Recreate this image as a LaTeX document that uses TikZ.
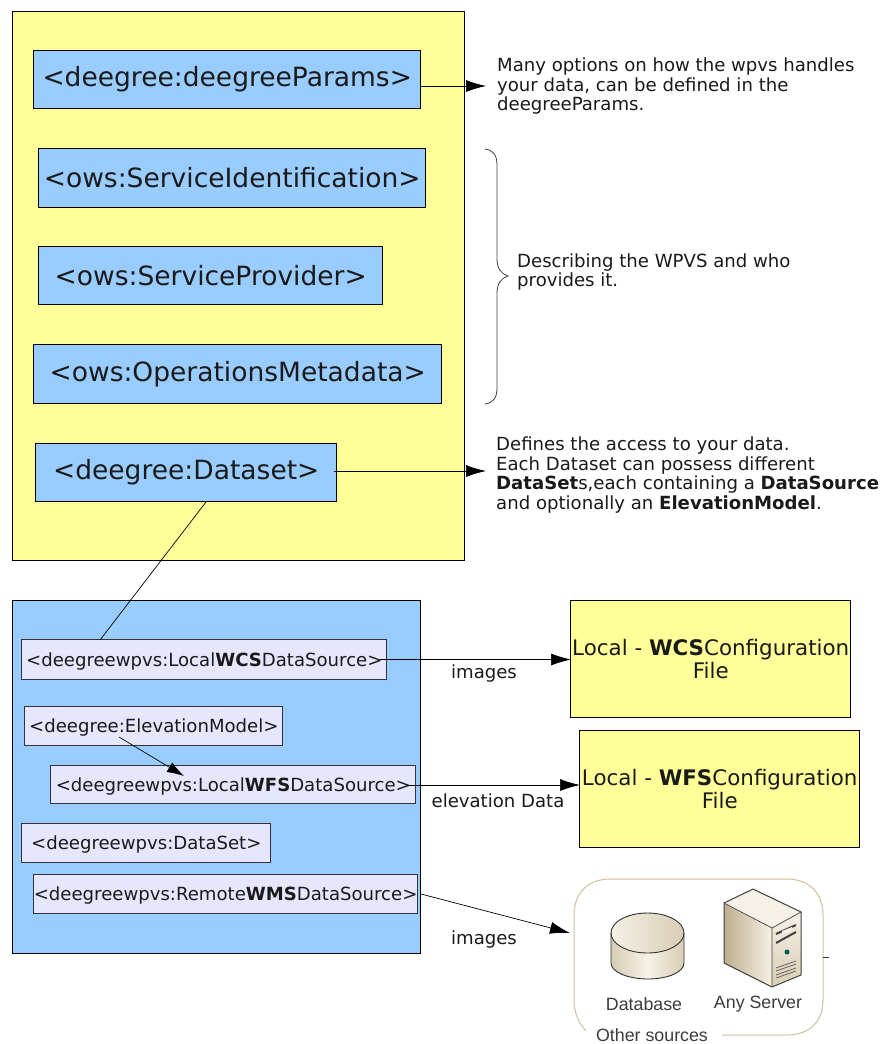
\documentclass[tikz,border=0pt]{standalone}
\usepackage{fontspec}
\setmainfont{DejaVu Sans}
\newfontfamily\lib{Liberation Sans}
\usetikzlibrary{arrows.meta,shadings}
\definecolor{yel}{HTML}{FFFF99}
\definecolor{blu}{HTML}{99CCFF}
\definecolor{lav}{HTML}{E6E6FF}
\definecolor{txt}{HTML}{1A1A1A}
\definecolor{tan1}{HTML}{CFC0A0}
\definecolor{tan2}{HTML}{F5F1E6}
\definecolor{tan3}{HTML}{D8CDB4}
\definecolor{tan4}{HTML}{BFAE8C}
\tikzset{
 x=1pt,y=-1pt,
 panel/.style={draw=black,line width=0.8pt},
 big/.style={draw=black,line width=0.7pt,fill=blu,inner sep=0pt,text=txt,font=\fontsize{26.5}{29}\selectfont},
 small/.style={draw=black!80,line width=0.8pt,fill=lav,inner sep=0pt,text=txt,text depth=0pt,font=\fontsize{18.1}{20}\selectfont},
 conf/.style={draw=black,line width=0.7pt,fill=yel,inner sep=0pt,text=txt,align=center,font=\fontsize{21.4}{23}\selectfont},
 note/.style={anchor=north west,inner sep=0pt,align=left,text=txt,font=\fontsize{18.1}{19.5}\selectfont},
 lab/.style={inner sep=0pt,text=txt,font=\fontsize{18.1}{20}\selectfont},
 lnk/.style={draw=black,line width=0.7pt},
 arr/.style={lnk,-{Latex[length=20pt,width=12pt]}},
 icon/.style={inner sep=0pt,text=txt!85,font=\lib\fontsize{17.8}{20}\selectfont},
}
\newcommand{\boxat}[7]{\node[#1,minimum width=#4pt,minimum height=#5pt,anchor=north west] (#2) at ([shift={(-0.6,-0.8)}]#6,#7) {#3};}
\begin{document}
\begin{tikzpicture}
\useasboundingbox (0,0) rectangle (881,1044);
\fill[white] (0,0) rectangle (881,1044);
\node[panel,fill=yel,minimum width=452pt,minimum height=549pt,anchor=north west,inner sep=0pt] (top) at (12,11) {};
\node[panel,fill=blu,minimum width=408pt,minimum height=353pt,anchor=north west,inner sep=0pt] (bot) at (12,600) {};

\boxat{big}{params}{<deegree:deegreeParams>}{387}{58}{34}{51}
\boxat{big}{ident}{<ows:ServiceIdentification>}{387}{59}{39}{149}
\boxat{big}{prov}{<ows:ServiceProvider>}{344}{58}{39}{247}
\boxat{big}{ops}{<ows:OperationsMetadata>}{408}{59}{34}{345}
\boxat{big}{dset}{<deegree:Dataset>}{301}{58}{36}{444}

\boxat{small}{wcs}{<deegreewpvs:Local\textbf{WCS}DataSource>}{365}{40}{22}{640}
\boxat{small}{elev}{<deegree:ElevationModel>}{258}{39}{25}{707}
\boxat{small}{wfs}{<deegreewpvs:Local\textbf{WFS}DataSource>}{365}{38}{51}{766}
\boxat{small}{ds}{<deegreewpvs:DataSet>}{249}{39}{22}{824}
\boxat{small}{wms}{<deegreewpvs:Remote\textbf{WMS}DataSource>}{382}{39}{34}{875}

\boxat{conf}{cwcs}{Local - \textbf{WCS}Configuration\\File}{280}{117}{571}{601}
\boxat{conf}{cwfs}{Local - \textbf{WFS}Configuration\\File}{280}{117}{580}{731}

\node[note] (n1) at (497,58) {Many options on how the wpvs handles\\your data, can be defined in the\\deegreeParams.};
\node[note] (n2) at (517,253.5) {Describing the WPVS and who\\provides it.};
\node[note] (n3) at (496,437) {Defines the access to your data.\\Each Dataset can possess different\\\textbf{DataSet}s,each containing a \textbf{DataSource}\\and optionally an \textbf{ElevationModel}.};

\coordinate (p1s) at (421,86);
\coordinate (p1e) at (486,86);
\draw[arr] (p1s) -- (p1e);
\coordinate (p2s) at (334,471);
\coordinate (p2e) at (486,471);
\draw[arr] (p2s) -- (p2e);
\coordinate (c1) at (206,502);
\coordinate (c2) at (100,640);
\draw[lnk] (c1) -- (c2);
\coordinate (w1) at (380,659.5);
\coordinate (w2) at (571,659.5);
\draw[arr] (w1) -- (w2);
\coordinate (f1) at (407,785);
\coordinate (f2) at (580,785);
\draw[arr] (f1) -- (f2);
\coordinate (m1) at (421,894);
\coordinate (m2) at (570,933);
\draw[arr] (m1) -- (m2);
\coordinate (e1) at (119,737);
\coordinate (e2) at (184,776);
\draw[lnk,-{Latex[length=17pt,width=11pt]}] (e1) -- (e2);

\node[lab] (l1) at (484,673) {images};
\node[lab] (l2) at (498,801) {elevation Data};
\node[lab] (l3) at (484,939) {images};

% brace
\coordinate (b1) at (485,149);
\coordinate (b2) at (497,165);
\coordinate (b3) at (497,259);
\coordinate (b4) at (508,276);
\coordinate (b5) at (497,293);
\coordinate (b6) at (497,388);
\coordinate (b7) at (485,404);
\draw[black!75,line width=0.8pt] (b1) .. controls (493,150) and (497,155) .. (b2) -- (b3) .. controls (497,268) and (501,274) .. (b4) .. controls (501,278) and (497,284) .. (b5) -- (b6) .. controls (497,398) and (493,403) .. (b7);

% other sources group
\draw[tan1,line width=1pt] (586,1031) .. controls (578,1022) and (574,1012) .. (574,1000) -- (574,915) .. controls (574,893) and (588,879) .. (610,879) -- (787,879) .. controls (809,879) and (823,893) .. (823,915) -- (823,1000) .. controls (823,1022) and (809,1035) .. (787,1035) -- (722,1035);
\node[icon] (gl) at (652,1035) {Other sources};
\coordinate (t1) at (823,957.5);
\coordinate (t2) at (829,957.5);
\draw[black!80,line width=0.7pt] (t1) -- (t2);

% database
\path[left color=tan3,right color=tan3,middle color=tan2] (611,933) -- (611,963) .. controls (611,972) and (628,979) .. (648,979) .. controls (668,979) and (684,972) .. (684,963) -- (684,933) -- cycle;
\path[left color=tan2,right color=tan3] (611,933) arc [start angle=180,end angle=-180,x radius=36.5,y radius=20];
\draw[black!80,line width=0.9pt] (611,933) -- (611,963) .. controls (611,972) and (628,979) .. (648,979) .. controls (668,979) and (684,972) .. (684,963) -- (684,933);
\draw[black!80,line width=0.9pt] (647.5,933) ellipse [x radius=36.5,y radius=20];
\node[icon] (dbl) at (644,1004) {Database};

% server
\path[left color=tan4,right color=tan2] (724,903) -- (772,928) -- (772,987) -- (724,963) -- cycle;
\fill[tan2] (724,903) -- (753,889) -- (801,912) -- (772,928) -- cycle;
\path[top color=tan2,bottom color=tan3] (772,928) -- (801,912) -- (801,975) -- (772,987) -- cycle;
\draw[black!75,line width=1pt,line join=round] (724,903) -- (753,889) -- (801,912) -- (801,975) -- (772,987) -- (724,963) -- cycle;
\draw[black!75,line width=0.7pt] (724,903) -- (772,928) -- (801,912) (772,928) -- (772,987);
\draw[black!75,line width=2pt] (776,934) -- (796,925);
\draw[black!75,line width=2pt] (776,943) -- (796,932);
\fill[tan2] (782,931) -- (792,927) -- (792,930) -- (782,935) -- cycle;
\fill[teal!70!black] (787,952) circle (2.5);
\draw[black!65,line width=0.7pt] (776,968) -- (796,961) (776,971) -- (796,964) (776,975) -- (796,968) (776,978) -- (796,971);
\node[icon] (srv) at (758,1004) {Any Server};
\end{tikzpicture}
\end{document}
